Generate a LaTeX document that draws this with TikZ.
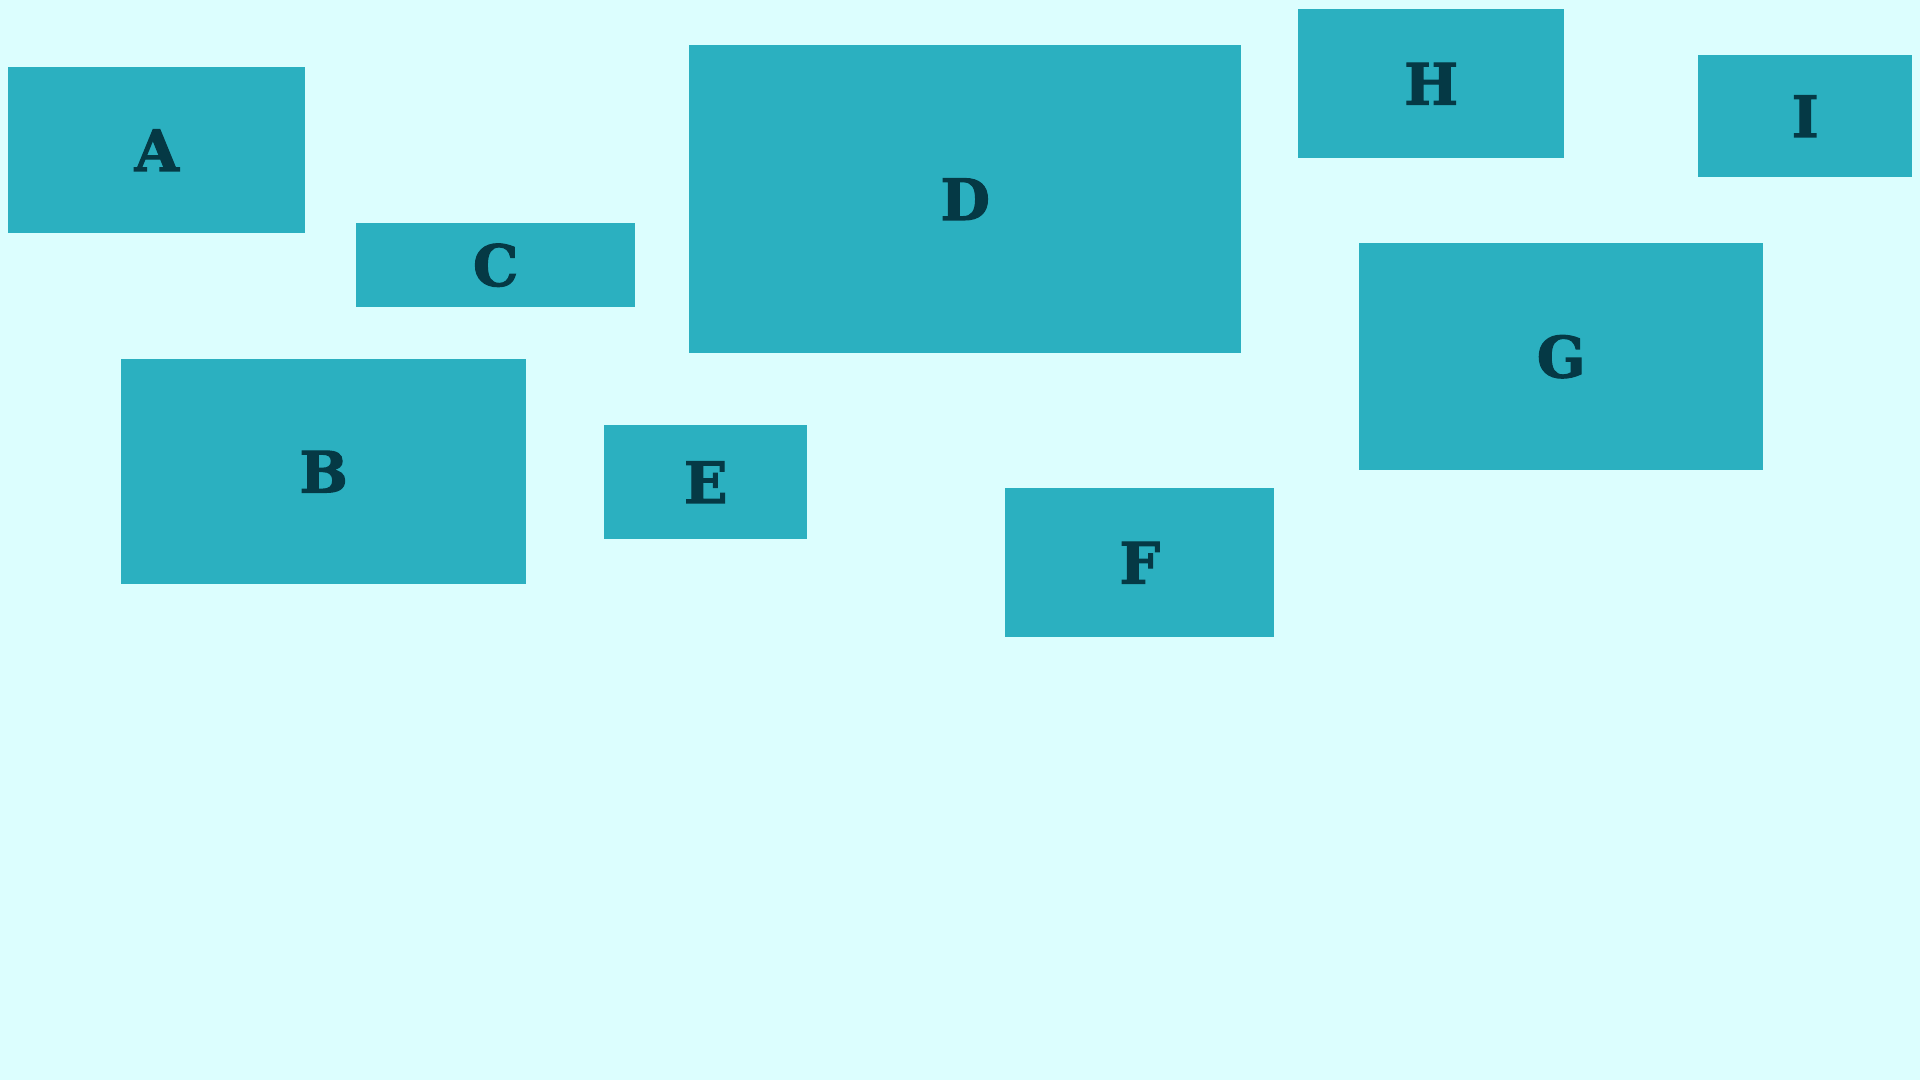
\documentclass[tikz,border=0pt]{standalone}
\usepackage{fontspec}
\setmainfont{DejaVu Serif}
\newfontfamily\slabfont[FakeBold=2]{DejaVu Serif Bold}
\definecolor{bgcyan}{HTML}{DCFEFE}
\definecolor{boxteal}{HTML}{2BB0C0}
\definecolor{inkteal}{HTML}{053945}
\begin{document}
\begin{tikzpicture}[x=1pt,y=-1pt,
  tile/.style={fill=boxteal,draw=none,inner sep=0pt,anchor=north west,
    text=inkteal,font=\slabfont\fontsize{57}{57}\selectfont}]
% background and page size
\fill[bgcyan] (0,0) rectangle (1920,1080);
\useasboundingbox (0,0) rectangle (1920,1080);
% left column
\node[tile,minimum width=297pt,minimum height=166pt] (A) at (8,67) {A};
\node[tile,minimum width=405pt,minimum height=225pt] (B) at (121,359) {B};
\node[tile,minimum width=279pt,minimum height=84pt] (C) at (356,223) {C};
% middle
\node[tile,minimum width=552pt,minimum height=308pt] (D) at (689,45) {D};
\node[tile,minimum width=203pt,minimum height=114pt] (E) at (604,425) {E};
\node[tile,minimum width=269pt,minimum height=149pt] (F) at (1005,488) {F};
% right column
\node[tile,minimum width=404pt,minimum height=227pt] (G) at (1359,243) {G};
\node[tile,minimum width=266pt,minimum height=149pt] (H) at (1298,9) {H};
\node[tile,minimum width=214pt,minimum height=122pt] (I) at (1698,55) {I};
\end{tikzpicture}
\end{document}
